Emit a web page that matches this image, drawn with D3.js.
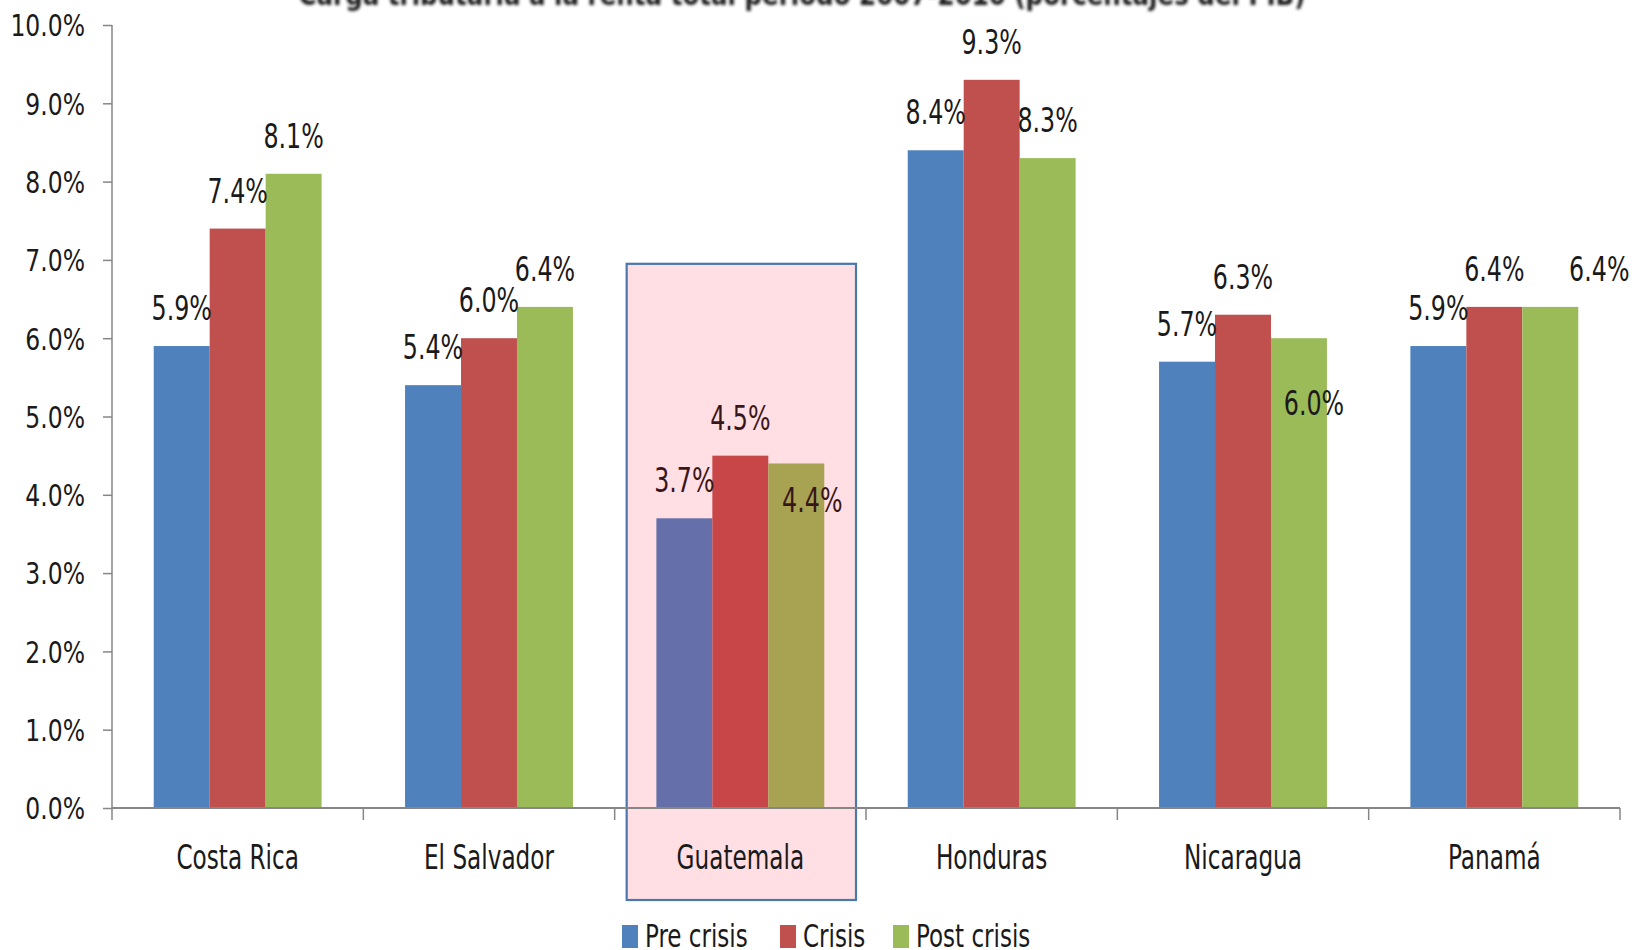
<!DOCTYPE html>
<html>
<head>
<meta charset="utf-8">
<script src="https://cdn.jsdelivr.net/npm/d3@7"></script>
<style>
  body { margin: 0; background: #fff; }
  text { font-family: "Liberation Sans Narrow", "DejaVu Sans Condensed", "Open Sans", sans-serif; fill: #1a1a1a; }
</style>
</head>
<body>
<div id="chart"></div>
<script>
// Chart data
var countries = ["Costa Rica", "El Salvador", "Guatemala", "Honduras", "Nicaragua", "Panamá"];
var seriesNames = ["Pre crisis", "Crisis", "Post crisis"];
var preCrisis = [5.9, 5.4, 3.7, 8.4, 5.7, 5.9];
var crisis = [7.4, 6.0, 4.5, 9.3, 6.3, 6.4];
var postCrisis = [8.1, 6.4, 4.4, 8.3, 6.0, 6.4];
var yTicks = [0, 1, 2, 3, 4, 5, 6, 7, 8, 9, 10];
var highlighted = "Guatemala";
var title = "Carga tributaria a la renta total período 2007-2010 (porcentajes del PIB)";

var colors = ["#4F81BD", "#C0504D", "#9BBB59"];

// label nudges (px) for the few labels Excel moved off the default spot
var labelNudge = {
  "Guatemala|2": [16, 75],
  "Nicaragua|2": [15, 103],
  "Panamá|2": [49, 0]
};

// squeeze text horizontally so it looks like the narrow Calibri of the original
function condense(sel, k) {
  sel.each(function() {
    var len = this.getComputedTextLength();
    d3.select(this)
      .attr("textLength", len * k)
      .attr("lengthAdjust", "spacingAndGlyphs");
  });
}

// SVG area
var svgWidth = 1632;
var svgHeight = 950;
var margin = { top: 25, right: 12, bottom: 142, left: 112 };
var chartWidth = svgWidth - margin.left - margin.right;
var chartHeight = svgHeight - margin.top - margin.bottom;

var svg = d3.select("#chart")
  .append("svg")
  .attr("width", svgWidth)
  .attr("height", svgHeight);

var defs = svg.append("defs");
defs.append("filter").attr("id", "blur")
  .append("feGaussianBlur").attr("stdDeviation", 1.6);

// title (cut off at the top of the picture)
svg.append("text")
  .attr("x", 802)
  .attr("y", 5)
  .attr("text-anchor", "middle")
  .attr("filter", "url(#blur)")
  .style("font-weight", "bold")
  .style("font-size", "31px")
  .text(title)
  .call(condense, 0.88);

var chartGroup = svg.append("g")
  .attr("transform", `translate(${margin.left}, ${margin.top})`);

// rows for each country
var rows = countries.map(function(c, i) {
  return { country: c, values: [preCrisis[i], crisis[i], postCrisis[i]] };
});

var x0 = d3.scaleBand()
  .domain(countries)
  .range([0, chartWidth])
  .padding(0);

var groupPad = x0.bandwidth() * 0.166;
var x1 = d3.scaleBand()
  .domain([0, 1, 2])
  .range([groupPad, x0.bandwidth() - groupPad])
  .padding(0);

var y = d3.scaleLinear()
  .domain([0, 10])
  .range([chartHeight, 0]);

// bars
var groups = chartGroup.selectAll(".country")
  .data(rows)
  .enter()
  .append("g")
  .attr("transform", d => `translate(${x0(d.country)}, 0)`);

groups.selectAll("rect")
  .data(d => d.values.map((v, k) => ({ country: d.country, k: k, v: v })))
  .enter()
  .append("rect")
  .attr("x", d => x1(d.k))
  .attr("y", d => y(d.v))
  .attr("width", x1.bandwidth())
  .attr("height", d => chartHeight - y(d.v))
  .attr("fill", d => colors[d.k]);

// highlight box over Guatemala
var hx = x0(highlighted);
chartGroup.append("rect")
  .attr("x", hx + 12)
  .attr("y", y(6.95))
  .attr("width", x0.bandwidth() - 22)
  .attr("height", chartHeight - y(6.95) + 92)
  .attr("fill", "rgb(255,0,40)")
  .attr("fill-opacity", 0.125)
  .attr("stroke", "#4A78AD")
  .attr("stroke-width", 2.2);

// y axis
var leftAxis = d3.axisLeft(y)
  .tickValues(yTicks)
  .tickSize(9)
  .tickPadding(18)
  .tickFormat(d => d3.format(".1f")(d) + "%");

var yAxis = chartGroup.append("g").call(leftAxis);
yAxis.select(".domain").attr("stroke", "#868686").attr("stroke-width", 1.5)
  .attr("d", `M0,${chartHeight}V0`);
yAxis.selectAll(".tick line").attr("stroke", "#868686").attr("stroke-width", 1.5);
yAxis.selectAll(".tick text")
  .attr("font-family", null)
  .attr("font-size", null)
  .style("font-size", "30px")
  .attr("dy", "0.36em")
  .call(condense, 0.87);

// x axis
var xAxis = chartGroup.append("g")
  .attr("transform", `translate(0, ${chartHeight})`);
xAxis.append("line")
  .attr("x1", 0).attr("x2", chartWidth)
  .attr("stroke", "#868686").attr("stroke-width", 2);
xAxis.selectAll(".xtick")
  .data(countries.concat(["end"]))
  .enter()
  .append("line")
  .attr("x1", (d, i) => i < countries.length ? x0(d) : chartWidth)
  .attr("x2", (d, i) => i < countries.length ? x0(d) : chartWidth)
  .attr("y1", 0).attr("y2", 12)
  .attr("stroke", "#868686").attr("stroke-width", 1.5);
xAxis.selectAll(".xlabel")
  .data(countries)
  .enter()
  .append("text")
  .attr("x", d => x0(d) + x0.bandwidth() / 2)
  .attr("y", 61)
  .attr("text-anchor", "middle")
  .style("font-size", "33px")
  .text(d => d)
  .call(condense, 0.78);

// data labels
groups.selectAll(".val")
  .data(d => d.values.map((v, k) => ({ country: d.country, k: k, v: v })))
  .enter()
  .append("text")
  .attr("x", d => x1(d.k) + x1.bandwidth() / 2 + (labelNudge[d.country + "|" + d.k] || [0, 0])[0])
  .attr("y", d => y(d.v) - 26 + (labelNudge[d.country + "|" + d.k] || [0, 0])[1])
  .attr("text-anchor", "middle")
  .style("font-size", "33px")
  .text(d => d3.format(".1f")(d.v) + "%")
  .call(condense, 0.8);

// legend
var legend = svg.append("g")
  .attr("transform", "translate(622, 925)");
var legendX = [0, 158, 271];
seriesNames.forEach(function(name, i) {
  var item = legend.append("g").attr("transform", `translate(${legendX[i]}, 0)`);
  item.append("rect")
    .attr("width", 16).attr("height", 23)
    .attr("fill", colors[i]);
  item.append("text")
    .attr("x", 23).attr("y", 22)
    .style("font-size", "32px")
    .text(name)
    .call(condense, 0.8);
});
</script>
</body>
</html>
